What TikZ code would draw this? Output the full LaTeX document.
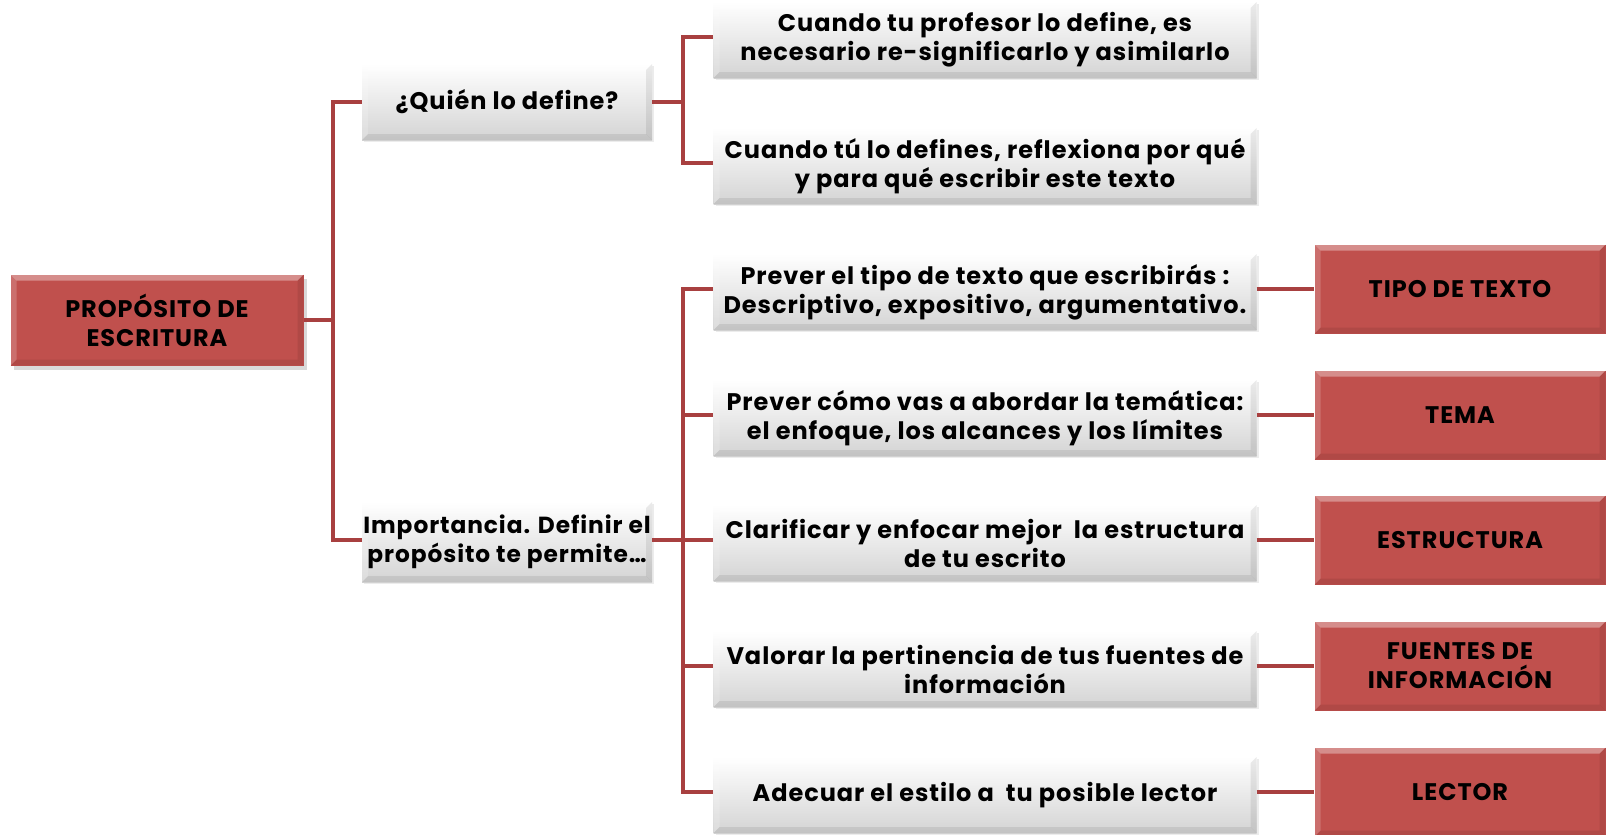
\documentclass[tikz,border=0pt]{standalone}
\usepackage{fontspec}
\setmainfont{Poppins}[LetterSpace=4]
\usetikzlibrary{shadows}
\definecolor{boxred}{RGB}{192,80,77}
\definecolor{linered}{RGB}{168,64,64}
\tikzset{
  bev/.style={path picture={
    \fill[white,opacity=0.35] (path picture bounding box.north west) -- (path picture bounding box.north east) -- ([xshift=-6pt,yshift=-6pt]path picture bounding box.north east) -- ([xshift=6pt,yshift=-6pt]path picture bounding box.north west) -- cycle;
    \fill[white,opacity=0.18] (path picture bounding box.north west) -- ([xshift=6pt,yshift=-6pt]path picture bounding box.north west) -- ([xshift=6pt,yshift=6pt]path picture bounding box.south west) -- (path picture bounding box.south west) -- cycle;
    \fill[black,opacity=0.08] (path picture bounding box.north east) -- ([xshift=-6pt,yshift=-6pt]path picture bounding box.north east) -- ([xshift=-6pt,yshift=6pt]path picture bounding box.south east) -- (path picture bounding box.south east) -- cycle;
    \fill[black,opacity=0.08] (path picture bounding box.south west) -- ([xshift=6pt,yshift=6pt]path picture bounding box.south west) -- ([xshift=-6pt,yshift=6pt]path picture bounding box.south east) -- (path picture bounding box.south east) -- cycle;
  }},
  graybox/.style={bev, top color=white, bottom color=black!17, inner sep=0pt,
    minimum height=76pt, align=center, font=\fontsize{24}{29}\selectfont\bfseries,
    drop shadow={shadow xshift=2pt,shadow yshift=-2pt,opacity=0.15}},
  redbox/.style={bev, fill=boxred, inner sep=0pt, minimum width=291pt,
    minimum height=89pt, align=center, font=\fontsize{24}{29}\selectfont\bfseries},
  conn/.style={draw=linered, line width=4pt}
}
\begin{document}
\begin{tikzpicture}[x=1pt,y=-1pt]
\useasboundingbox (0,0) rectangle (1606,835);
\node[redbox, minimum width=293pt, minimum height=91pt,
  drop shadow={shadow xshift=3pt,shadow yshift=-4pt,opacity=0.3}] (root) at (157,320) {PROPÓSITO DE\\ESCRITURA};
\node[graybox, minimum width=290pt] (q) at (507,102) {¿Quién lo define?};
\node[graybox, minimum width=290pt, minimum height=80pt, font=\fontsize{23.3}{29}\selectfont\bfseries] (imp) at (507,542) {Importancia. Definir el\\propósito te permite…};
\node[graybox, minimum width=543pt] (a1) at (985,40) {Cuando tu profesor lo define, es\\necesario re-significarlo y asimilarlo};
\node[graybox, minimum width=543pt] (a2) at (985,166) {Cuando tú lo defines, reflexiona por qué\\y para qué escribir este texto};
\node[graybox, minimum width=543pt] (b1) at (985,292) {Prever el tipo de texto que escribirás :\\Descriptivo, expositivo, argumentativo.};
\node[graybox, minimum width=543pt] (b2) at (985,418) {Prever cómo vas a abordar la temática:\\el enfoque, los alcances y los límites};
\node[graybox, minimum width=543pt] (b3) at (985,543) {Clarificar y enfocar mejor\ \ la estructura\\de tu escrito};
\node[graybox, minimum width=543pt] (b4) at (985,669) {Valorar la pertinencia de tus fuentes de\\información};
\node[graybox, minimum width=543pt] (b5) at (985,795) {Adecuar el estilo a\ \ tu posible lector};
\node[redbox] (r1) at (1460,289) {TIPO DE TEXTO};
\node[redbox] (r2) at (1460,415) {TEMA};
\node[redbox] (r3) at (1460,540) {ESTRUCTURA};
\node[redbox] (r4) at (1460,666) {FUENTES DE\\INFORMACIÓN};
\node[redbox] (r5) at (1460,792) {LECTOR};
\coordinate (j1) at (333,320);
\coordinate (j2) at (683,102);
\coordinate (j3) at (683,540);
\draw[conn] (root.east) -- (j1);
\draw[conn] (q.west) -| (j1);
\draw[conn] ([yshift=2pt]imp.west) -| (j1);
\draw[conn] (q.east) -- (j2);
\draw[conn] (j2) |- ([yshift=3pt]a1.west);
\draw[conn] (j2) |- ([yshift=3pt]a2.west);
\draw[conn] ([yshift=2pt]imp.east) -- (j3);
\foreach \i in {1,...,5}{
  \draw[conn] (j3) |- ([yshift=3pt]b\i.west);
  \draw[conn] ([yshift=3pt]b\i.east) -- (r\i.west);
}
\end{tikzpicture}
\end{document}
